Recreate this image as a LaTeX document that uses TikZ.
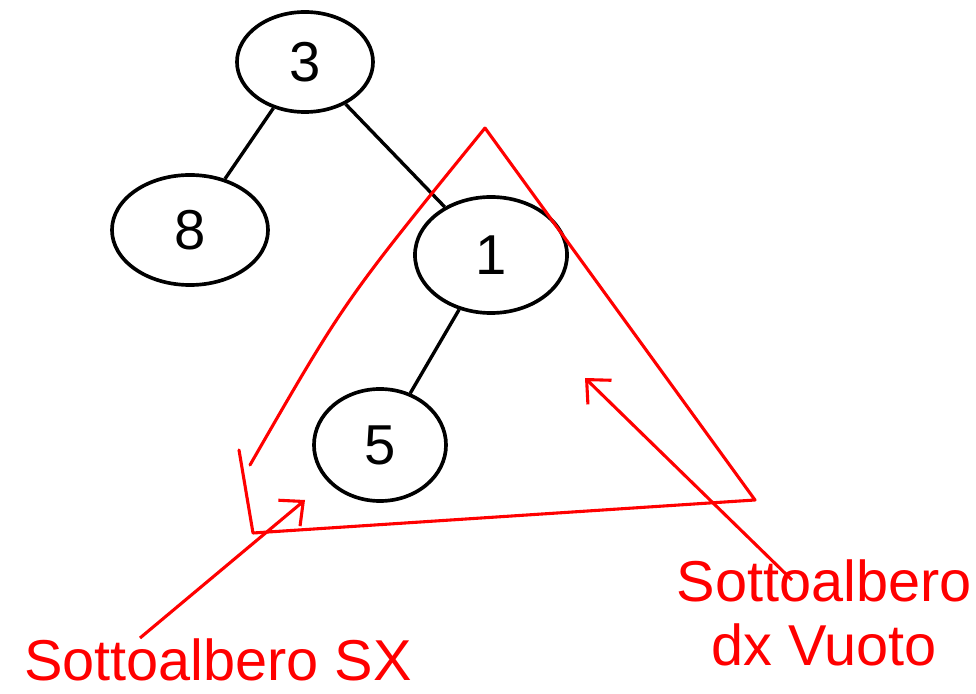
\documentclass[tikz,border=0pt]{standalone}
\usepackage{fontspec}
\setmainfont{Liberation Sans}
\usetikzlibrary{shapes.geometric, arrows.meta}
\definecolor{penred}{RGB}{255,0,0}

\begin{document}
\begin{tikzpicture}[x=0.025cm, y=-0.025cm,
    knot/.style={ellipse, draw=black, line width=2.6pt, inner sep=0pt,
                 font=\fontsize{40}{44}\selectfont},
    edge/.style={line width=2.4pt, black},
    tri/.style={line width=2.2pt, penred, line join=round, line cap=round},
    arr/.style={-{Straight Barb[length=13pt, width=24pt]}, line width=2.2pt, penred},
    lbl/.style={text=penred, font=\fontsize{41}{46}\selectfont, align=center},
  ]
    \useasboundingbox (0,0) rectangle (976,694);
    \node[knot, minimum width=3.4cm, minimum height=2.5cm] (n3) at (305,62)  {3};
    \node[knot, minimum width=3.9cm, minimum height=2.75cm] (n8) at (190,230) {8};
    \node[knot, minimum width=3.8cm, minimum height=2.9cm] (n1) at (491,255) {1};
    \node[knot, minimum width=3.3cm, minimum height=2.8cm] (n5) at (380,445) {5};
    \foreach \a/\b in {n3/n8,n3/n1,n1/n5} \draw[edge] (\a) -- (\b);
    % right subtree of 3, drawn as a triangle
    \coordinate (top) at (485,128);
    \coordinate (gap) at (250,465);
    \coordinate (lft) at (239,450);
    \coordinate (bl)  at (253,533);
    \coordinate (br)  at (755,500);
    \draw[tri] (top) .. controls (345,300) .. (gap);
    \draw[tri] (lft) -- (bl) -- (br) -- (top);
    \node[lbl] (left) at (218,660) {Sottoalbero SX};
    \node[lbl] (right) at (824,613) {Sottoalbero\\dx Vuoto};
    \coordinate (tipL) at (305,500);
    \coordinate (tipR) at (585,378);
    \coordinate (tailL) at (140,638);
    \coordinate (tailR) at (792,580);
    \draw[arr] (tailL) -- (tipL);
    \draw[arr] (tailR) -- (tipR);
  \end{tikzpicture}
\end{document}
